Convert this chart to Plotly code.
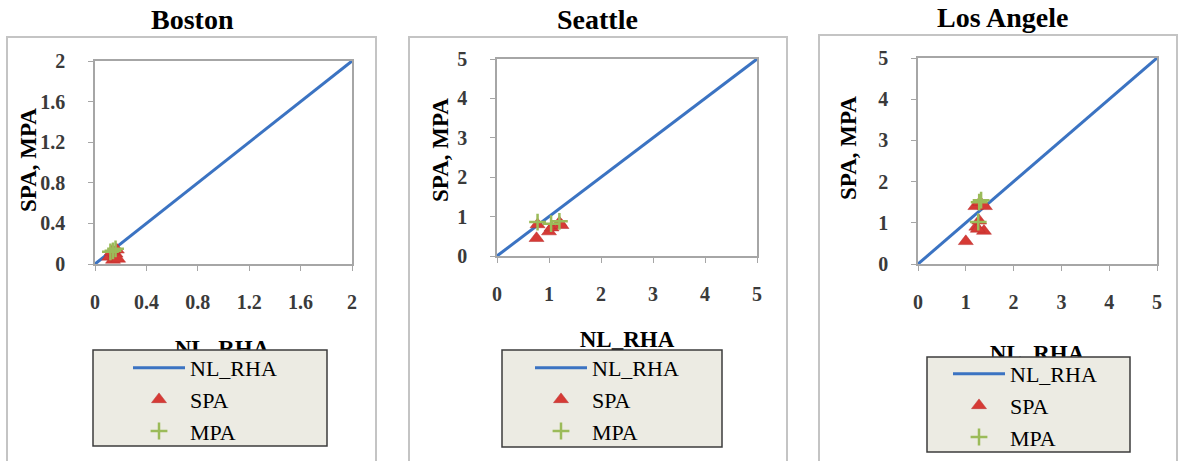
import plotly.graph_objects as go

W, H = 1180, 461

# ---------------- data ----------------
cities = ["Boston", "Seattle", "Los Angele"]
axis_max = [2, 5, 5]
tick_vals_boston = [0, 0.4, 0.8, 1.2, 1.6, 2]
tick_text_boston = ["0", "0.4", "0.8", "1.2", "1.6", "2"]
tick_vals_5 = [0, 1, 2, 3, 4, 5]
tick_text_5 = ["0", "1", "2", "3", "4", "5"]

line_boston_x = [0, 2]
line_boston_y = [0, 2]
line_seattle_x = [0, 5]
line_seattle_y = [0, 5]
line_la_x = [0, 5]
line_la_y = [0, 5]

spa_boston_x = [0.11, 0.14, 0.16, 0.18, 0.13, 0.17]
spa_boston_y = [0.07, 0.04, 0.10, 0.05, 0.12, 0.14]
mpa_boston_x = [0.12, 0.14, 0.16]
mpa_boston_y = [0.12, 0.13, 0.15]

spa_seattle_x = [0.76, 0.78, 1.00, 1.05, 1.20, 1.24]
spa_seattle_y = [0.45, 0.80, 0.62, 0.72, 0.85, 0.78]
mpa_seattle_x = [0.78, 1.04, 1.20]
mpa_seattle_y = [0.86, 0.82, 0.88]

spa_la_x = [1.00, 1.20, 1.30, 1.40, 1.22, 1.28, 1.38, 1.25]
spa_la_y = [0.55, 1.40, 1.50, 1.40, 0.90, 1.05, 0.80, 0.85]
mpa_la_x = [1.28, 1.32, 1.26]
mpa_la_y = [1.50, 1.55, 1.02]

x_title = "NL_RHA"
y_title = "SPA, MPA"

# ---------------- style ----------------
FONT = "Liberation Serif"
BLUE = "#3b73c2"
RED = "#d63a35"
GREEN = "#9bbb59"
GRID = "#a6a6a6"
LEG_BG = "#ecebe3"


def px(x):
    return x / W


def py(y):
    return 1 - y / H


# panel geometry (pixels)
panels = [
    dict(x0=95, x1=352, y0=61, y1=264, frame=(7, 37, 376), leg=(93, 350, 327, 446),
         legpos=(128, 347), ytitle=(28, 160), title=(192, 19), xtitle=(222, 350)),
    dict(x0=497, x1=757, y0=59, y1=256, frame=(409, 37, 787), leg=(502, 350, 722, 447),
         legpos=(530, 347), ytitle=(440, 150), title=(597, 19), xtitle=(627, 341)),
    dict(x0=918, x1=1157, y0=58, y1=264, frame=(819, 35, 1177), leg=(927, 357, 1130, 452),
         legpos=(948, 353), ytitle=(848, 148), title=(1002, 18), xtitle=(1037, 355)),
]

series = [
    (line_boston_x, line_boston_y, spa_boston_x, spa_boston_y, mpa_boston_x, mpa_boston_y),
    (line_seattle_x, line_seattle_y, spa_seattle_x, spa_seattle_y, mpa_seattle_x, mpa_seattle_y),
    (line_la_x, line_la_y, spa_la_x, spa_la_y, mpa_la_x, mpa_la_y),
]

fig = go.Figure()
shapes = []
annotations = []
layout = dict(
    width=W, height=H,
    margin=dict(l=0, r=0, t=0, b=0, autoexpand=False),
    paper_bgcolor="white", plot_bgcolor="rgba(0,0,0,0)",
    font=dict(family=FONT, color="black"),
    showlegend=True,
)

for i, (p, s, city, amax) in enumerate(zip(panels, series, cities, axis_max)):
    n = "" if i == 0 else str(i + 1)
    xa, ya = "x" + n, "y" + n
    leg = "legend" + n
    lx, ly, sx, sy, mx, my = s

    fig.add_trace(go.Scatter(x=lx, y=ly, mode="lines", name="NL_RHA",
                             line=dict(color=BLUE, width=3), xaxis=xa, yaxis=ya,
                             legend=leg))
    fig.add_trace(go.Scatter(x=sx, y=sy, mode="markers", name="SPA",
                             marker=dict(symbol="triangle-up", color=RED, size=13,
                                         line=dict(color="#b83030", width=0.5)),
                             xaxis=xa, yaxis=ya, legend=leg))
    fig.add_trace(go.Scatter(x=mx, y=my, mode="markers", name="MPA",
                             marker=dict(symbol="cross-thin", size=12,
                                         line=dict(color=GREEN, width=2.5)),
                             xaxis=xa, yaxis=ya, legend=leg))

    if amax == 2:
        tv, tt = tick_vals_boston, tick_text_boston
    else:
        tv, tt = tick_vals_5, tick_text_5

    axcommon = dict(range=[0, amax], tickvals=tv, ticktext=tt, showgrid=False,
                    zeroline=False, showline=True, linecolor=GRID, linewidth=1.5,
                    mirror=True, ticks="outside", ticklen=5, tickcolor=GRID,
                    automargin=False,
                    tickfont=dict(family=FONT, size=20, color="#3a3a3a", weight="bold"))
    layout["xaxis" + n] = dict(axcommon, domain=[px(p["x0"]), px(p["x1"])],
                               anchor=ya, ticklabelstandoff=14)
    layout["yaxis" + n] = dict(axcommon, domain=[py(p["y1"]), py(p["y0"])],
                               anchor=xa, ticklabelstandoff=19)

    fx0, fy0, fx1 = p["frame"]
    shapes.append(dict(type="rect", xref="paper", yref="paper", x0=px(fx0), x1=px(fx1),
                       y0=py(fy0), y1=py(H + 5), line=dict(color="#c4c4c4", width=2),
                       fillcolor="rgba(0,0,0,0)", layer="below"))
    gx0, gy0, gx1, gy1 = p["leg"]
    shapes.append(dict(type="rect", xref="paper", yref="paper", x0=px(gx0), x1=px(gx1),
                       y0=py(gy1), y1=py(gy0), line=dict(color="#3c3c3c", width=1.5),
                       fillcolor=LEG_BG, layer="above"))

    layout[leg] = dict(x=px(p["legpos"][0]), y=py(p["legpos"][1]), xanchor="left",
                       yanchor="top", xref="container", yref="container",
                       bgcolor="rgba(0,0,0,0)", borderwidth=0,
                       itemwidth=52, tracegroupgap=0,
                       font=dict(family=FONT, size=22, color="black"))

    annotations.append(dict(text="<b>" + city + "</b>", xref="paper", yref="paper",
                            x=px(p["title"][0]), y=py(p["title"][1]), showarrow=False,
                            xanchor="center", yanchor="middle",
                            font=dict(family=FONT, size=28, color="black")))
    annotations.append(dict(text="<b>" + y_title + "</b>", xref="paper", yref="paper",
                            x=px(p["ytitle"][0]), y=py(p["ytitle"][1]), showarrow=False,
                            textangle=-90, xanchor="center", yanchor="middle",
                            font=dict(family=FONT, size=23, color="black")))

# x-axis titles: drawn in an invisible full-page subplot so the legend boxes
# (shapes above the plot layer) can partly cover them, as in the reference
fig.add_trace(go.Scatter(x=[px(p["xtitle"][0]) for p in panels],
                         y=[py(p["xtitle"][1]) for p in panels],
                         mode="text", text=[x_title] * 3, textposition="middle center",
                         textfont=dict(family=FONT, size=23, color="black", weight="bold"),
                         showlegend=False, hoverinfo="skip", xaxis="x4", yaxis="y4"))
layout["xaxis4"] = dict(domain=[0, 1], range=[0, 1], visible=False, anchor="y4",
                        fixedrange=True)
layout["yaxis4"] = dict(domain=[0, 1], range=[0, 1], visible=False, anchor="x4",
                        fixedrange=True)

layout["shapes"] = shapes
layout["annotations"] = annotations
fig.update_layout(**layout)
fig.write_html("out.html", config={"displayModeBar": False},
               post_script="document.body.style.margin='0';document.body.style.padding='0';")
